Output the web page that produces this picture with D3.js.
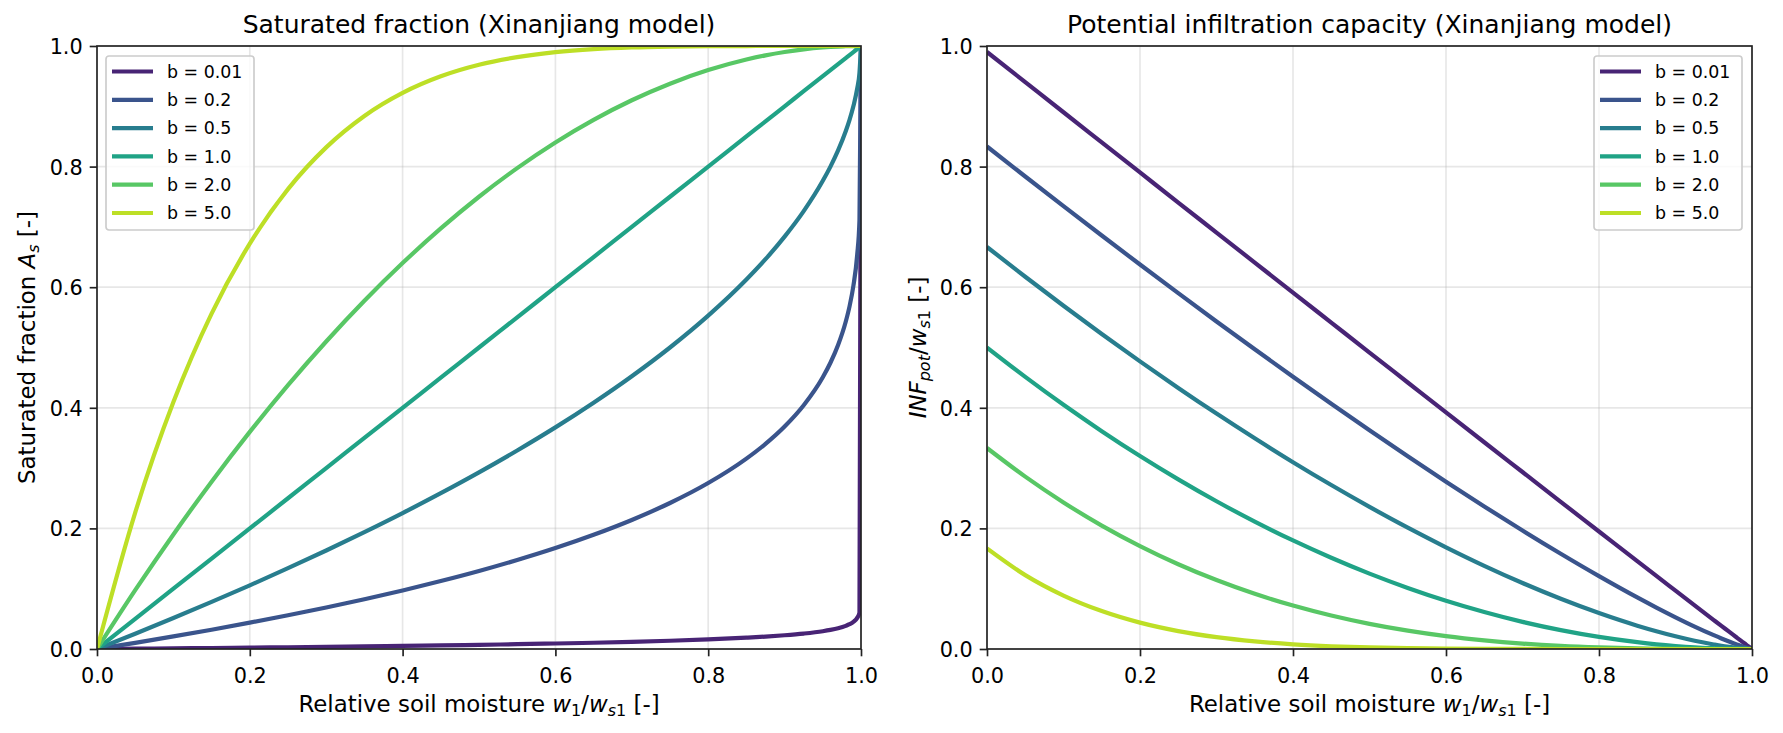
<!DOCTYPE html>
<meta charset="utf-8">
<script src="https://d3js.org/d3.v7.min.js"></script>
<style>
	body{
		margin:0;
		background:#fff;
		font-family:'DejaVu Sans', sans-serif;
	}
	text{
		fill:#000;
	}
</style>
<div id="chart"></div>
<script>
	// shared x grid (relative soil moisture w1/ws1)
	var moisture = [0, 0.05, 0.1, 0.15, 0.2, 0.25, 0.3, 0.35, 0.4, 0.45, 0.5, 0.55, 0.6, 0.65, 0.7, 0.75, 0.8, 0.85, 0.875, 0.9, 0.925, 0.95, 0.96, 0.97, 0.98, 0.985, 0.99, 0.995, 0.998, 1]

	var bLabels = ["b = 0.01", "b = 0.2", "b = 0.5", "b = 1.0", "b = 2.0", "b = 5.0"]
	var colorStops = [0.1, 0.26, 0.42, 0.58, 0.74, 0.9]

	// saturated fraction As, one list per b
	var satB001 = [0, 0.0005, 0.0011, 0.0016, 0.0022, 0.0029, 0.0036, 0.0043, 0.0051, 0.0060, 0.0069, 0.0080, 0.0091, 0.0104, 0.0119, 0.0137, 0.0160, 0.0188, 0.0206, 0.0228, 0.0256, 0.0295, 0.0317, 0.0345, 0.0384, 0.0411, 0.0450, 0.0516, 0.0602, 1]
	var satB02 = [0, 0.0102, 0.0209, 0.0320, 0.0437, 0.0559, 0.0688, 0.0826, 0.0971, 0.1127, 0.1294, 0.1476, 0.1674, 0.1894, 0.2140, 0.2421, 0.2752, 0.3157, 0.3402, 0.3690, 0.4043, 0.4507, 0.4747, 0.5041, 0.5427, 0.5683, 0.6019, 0.6534, 0.7114, 1]
	var satB05 = [0, 0.0253, 0.0513, 0.0781, 0.1056, 0.1340, 0.1633, 0.1938, 0.2254, 0.2584, 0.2929, 0.3292, 0.3675, 0.4084, 0.4523, 0.5, 0.5528, 0.6127, 0.6464, 0.6838, 0.7261, 0.7764, 0.8, 0.8268, 0.8586, 0.8775, 0.9, 0.9293, 0.9553, 1]
	var satB1 = [0, 0.05, 0.1, 0.15, 0.2, 0.25, 0.3, 0.35, 0.4, 0.45, 0.5, 0.55, 0.6, 0.65, 0.7, 0.75, 0.8, 0.85, 0.875, 0.9, 0.925, 0.95, 0.96, 0.97, 0.98, 0.985, 0.99, 0.995, 0.998, 1]
	var satB2 = [0, 0.0975, 0.19, 0.2775, 0.36, 0.4375, 0.51, 0.5775, 0.64, 0.6975, 0.75, 0.7975, 0.84, 0.8775, 0.91, 0.9375, 0.96, 0.9775, 0.9844, 0.99, 0.9944, 0.9975, 0.9984, 0.9991, 0.9996, 0.9998, 0.9999, 1, 1, 1]
	var satB5 = [0, 0.2262, 0.4095, 0.5563, 0.6723, 0.7627, 0.8319, 0.8840, 0.9222, 0.9497, 0.9688, 0.9815, 0.9898, 0.9948, 0.9976, 0.9990, 0.9997, 0.9999, 1, 1, 1, 1, 1, 1, 1, 1, 1, 1, 1, 1]

	// potential infiltration capacity INFpot/ws1
	var infB001 = [0.9901, 0.9401, 0.8901, 0.8402, 0.7903, 0.7404, 0.6906, 0.6408, 0.5910, 0.5413, 0.4916, 0.4420, 0.3924, 0.3429, 0.2935, 0.2441, 0.1949, 0.1457, 0.1212, 0.0968, 0.0724, 0.0480, 0.0383, 0.0287, 0.0190, 0.0142, 0.0095, 0.0047, 0.0019, 0]
	var infB02 = [0.8333, 0.7836, 0.7344, 0.6857, 0.6376, 0.5901, 0.5432, 0.4970, 0.4514, 0.4067, 0.3627, 0.3196, 0.2775, 0.2364, 0.1965, 0.1579, 0.1208, 0.0855, 0.0687, 0.0526, 0.0372, 0.0229, 0.0175, 0.0124, 0.0076, 0.0054, 0.0033, 0.0014, 0.0005, 0]
	var infB05 = [0.6667, 0.6173, 0.5692, 0.5224, 0.4770, 0.4330, 0.3904, 0.3494, 0.3098, 0.2719, 0.2357, 0.2012, 0.1687, 0.1380, 0.1095, 0.0833, 0.0596, 0.0387, 0.0295, 0.0211, 0.0137, 0.0075, 0.0053, 0.0035, 0.0019, 0.0012, 0.0007, 0.0002, 0.0001, 0]
	var infB1 = [0.5, 0.4513, 0.405, 0.3613, 0.32, 0.2813, 0.245, 0.2113, 0.18, 0.1513, 0.125, 0.1013, 0.08, 0.0613, 0.045, 0.0313, 0.02, 0.0113, 0.0078, 0.005, 0.0028, 0.0013, 0.0008, 0.0005, 0.0002, 0.0001, 0.0001, 0, 0, 0]
	var infB2 = [0.3333, 0.2858, 0.2430, 0.2047, 0.1707, 0.1406, 0.1143, 0.0915, 0.0720, 0.0555, 0.0417, 0.0304, 0.0213, 0.0143, 0.0090, 0.0052, 0.0027, 0.0011, 0.0007, 0.0003, 0.0001, 0, 0, 0, 0, 0, 0, 0, 0, 0]
	var infB5 = [0.1667, 0.1225, 0.0886, 0.0629, 0.0437, 0.0297, 0.0196, 0.0126, 0.0078, 0.0046, 0.0026, 0.0014, 0.0007, 0.0003, 0.0001, 0, 0, 0, 0, 0, 0, 0, 0, 0, 0, 0, 0, 0, 0, 0]

	var tickValues = [0, 0.2, 0.4, 0.6, 0.8, 1.0]

	var W = 1783
	var H = 733
	var plotTop = 46, plotBottom = 649
	var tickFont = "20.8px", titleFont = "25px", labelFont = "22.9px", legendFont = "17.4px"

	var svg = d3.select("#chart").append("svg").attr("width", W).attr("height", H)

	drawPanel({
		left: 97, right: 861,
		series: [satB001, satB02, satB05, satB1, satB2, satB5],
		title: "Saturated fraction (Xinanjiang model)",
		ylabel: [["Saturated fraction ", "n"], ["A", "i"], ["s", "si"], [" [-]", "n"]],
		ylabelX: 35,
		legendX: 106,
		id: "a"
	})
	drawPanel({
		left: 987, right: 1752,
		series: [infB001, infB02, infB05, infB1, infB2, infB5],
		title: "Potential infiltration capacity (Xinanjiang model)",
		ylabel: [["INF", "i"], ["pot", "si"], ["/", "n"], ["w", "i"], ["s", "si"], ["1", "s"], [" [-]", "n"]],
		ylabelX: 926,
		legendX: 1594,
		id: "b"
	})

	// write text made of pieces: n normal, i italic, s subscript, si italic subscript
	function richText(sel, parts) {
		var inSub = false
		parts.forEach(function(p) {
			var t = sel.append("tspan").text(p[0])
			var sub = p[1] == "s" || p[1] == "si"
			if (p[1] == "i" || p[1] == "si") t.style("font-style", "italic")
			if (sub) t.style("font-size", "0.7em")
			if (sub && !inSub) t.attr("dy", "0.22em")
			if (!sub && inSub) t.attr("dy", "-0.154em")
			inSub = sub
		})
	}

	function drawPanel(o) {
		var x = d3.scaleLinear().domain([0, 1]).range([o.left, o.right])
		var y = d3.scaleLinear().domain([0, 1]).range([plotBottom, plotTop])
		var g = svg.append("g")

		svg.append("clipPath").attr("id", "clip" + o.id)
			.append("rect").attr("x", o.left).attr("y", plotTop)
			.attr("width", o.right - o.left).attr("height", plotBottom - plotTop)

		// grid
		g.selectAll(".gx").data(tickValues).join("line")
			.attr("x1", d => x(d)).attr("x2", d => x(d))
			.attr("y1", plotTop).attr("y2", plotBottom)
			.attr("stroke", "#b0b0b0").attr("stroke-opacity", 0.3).attr("stroke-width", 1.67)
		g.selectAll(".gy").data(tickValues).join("line")
			.attr("y1", d => y(d)).attr("y2", d => y(d))
			.attr("x1", o.left).attr("x2", o.right)
			.attr("stroke", "#b0b0b0").attr("stroke-opacity", 0.3).attr("stroke-width", 1.67)

		var line = d3.line()
			.x((d, i) => x(moisture[i]))
			.y(d => y(d))
			.curve(d3.curveMonotoneX)

		g.append("g").attr("clip-path", "url(#clip" + o.id + ")")
			.selectAll("path").data(o.series).join("path")
			.attr("d", line)
			.attr("fill", "none")
			.attr("stroke", (d, i) => d3.interpolateViridis(colorStops[i]))
			.attr("stroke-width", 4.2)
			.attr("stroke-linejoin", "round")

		// axes
		var xAxis = d3.axisBottom(x).tickValues(tickValues).tickFormat(d3.format(".1f")).tickSize(7.3).tickPadding(7)
		var yAxis = d3.axisLeft(y).tickValues(tickValues).tickFormat(d3.format(".1f")).tickSize(7.3).tickPadding(7)
		var gx = svg.append("g").attr("transform", "translate(0," + plotBottom + ")").call(xAxis)
		var gy = svg.append("g").attr("transform", "translate(" + o.left + ",0)").call(yAxis)
		;[gx, gy].forEach(function(a) {
			a.select(".domain").remove()
			a.selectAll("line").attr("stroke", "#222").attr("stroke-width", 1.67)
			a.selectAll("text").style("font-size", tickFont).attr("fill", "#000")
				.style("font-family", "'DejaVu Sans', sans-serif")
		})
		gx.selectAll("text").attr("dy", "0.95em")
		gy.selectAll("text").attr("dy", "0.36em")

		// spines
		svg.append("rect").attr("x", o.left).attr("y", plotTop)
			.attr("width", o.right - o.left).attr("height", plotBottom - plotTop)
			.attr("fill", "none").attr("stroke", "#222").attr("stroke-width", 1.67)

		// title and labels
		svg.append("text").attr("x", (o.left + o.right) / 2).attr("y", 33)
			.attr("text-anchor", "middle").style("font-size", titleFont).text(o.title)

		var xl = svg.append("text").attr("x", (o.left + o.right) / 2).attr("y", 712)
			.attr("text-anchor", "middle").style("font-size", labelFont)
		richText(xl, [["Relative soil moisture ", "n"], ["w", "i"], ["1", "s"], ["/", "n"], ["w", "i"], ["s", "si"], ["1", "s"], [" [-]", "n"]])

		var yl = svg.append("text")
			.attr("transform", "translate(" + o.ylabelX + "," + (plotTop + plotBottom) / 2 + ") rotate(-90)")
			.attr("text-anchor", "middle").style("font-size", labelFont)
		richText(yl, o.ylabel)

		// legend
		var lg = svg.append("g").attr("transform", "translate(" + o.legendX + ",56)")
		lg.append("rect").attr("width", 148).attr("height", 174).attr("rx", 3)
			.attr("fill", "#fff").attr("fill-opacity", 0.8)
			.attr("stroke", "#cccccc").attr("stroke-width", 1.67)
		var rows = lg.selectAll(".row").data(bLabels).join("g")
			.attr("transform", (d, i) => "translate(0," + (15.5 + i * 28.3) + ")")
		rows.append("line").attr("x1", 6).attr("x2", 47)
			.attr("stroke", (d, i) => d3.interpolateViridis(colorStops[i])).attr("stroke-width", 4.2)
		rows.append("text").attr("x", 61).attr("dy", "0.36em")
			.style("font-size", legendFont).text(d => d)
	}
</script>
